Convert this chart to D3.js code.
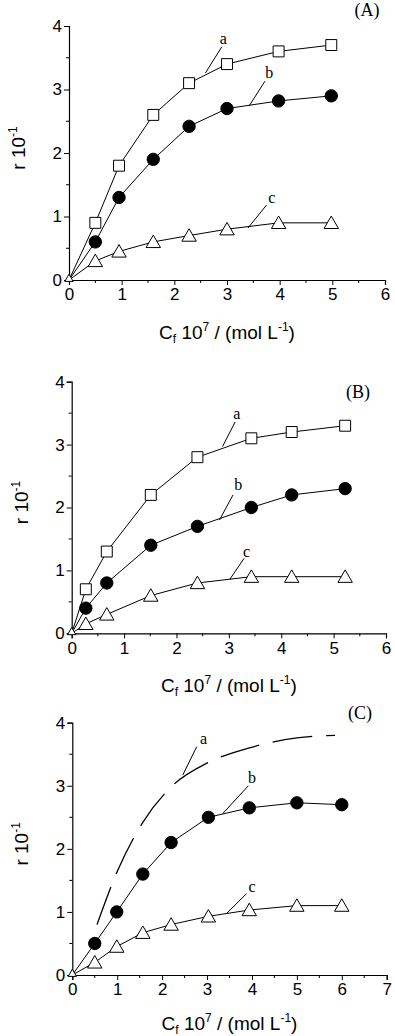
<!DOCTYPE html>
<html>
<head>
<meta charset="utf-8">
<script src="https://cdn.jsdelivr.net/npm/d3@7"></script>
<style>
    body { margin: 0; background: #fff; }
    svg { display: block; }
    .tick-label { font-family: "Liberation Sans", Arial, sans-serif; font-size: 17px; fill: #000; }
    .axis-title { font-family: "Liberation Sans", Arial, sans-serif; font-size: 19px; fill: #000; }
    .panel-tag { font-family: "Liberation Serif", "Times New Roman", serif; font-size: 18px; fill: #000; }
    .curve-tag { font-family: "Liberation Serif", "Times New Roman", serif; font-size: 16px; fill: #000; }
</style>
</head>
<body>
<svg id="chart" width="395" height="1036"></svg>
<script>
(function () {
    "use strict";

    // ---- data ----
    // panel A
    var xA = [0, 0.5, 0.95, 1.6, 2.28, 3, 3.98, 4.98];
    var aA = [0, 0.9, 1.8, 2.6, 3.1, 3.4, 3.6, 3.7];
    var bA = [0, 0.6, 1.3, 1.9, 2.42, 2.7, 2.82, 2.9];
    var cA = [0, 0.3, 0.45, 0.6, 0.7, 0.8, 0.9, 0.9];

    // panel B
    var xB = [0, 0.27, 0.67, 1.51, 2.4, 3.43, 4.2, 5.22];
    var aB = [0, 0.7, 1.3, 2.2, 2.8, 3.1, 3.2, 3.3];
    var bB = [0, 0.4, 0.8, 1.4, 1.7, 2.0, 2.2, 2.3];
    var cB = [0, 0.15, 0.3, 0.6, 0.8, 0.9, 0.9, 0.9];

    // panel C (a is a dashed fitted curve with no symbols)
    var xC = [0, 0.5, 0.99, 1.57, 2.2, 3.03, 3.94, 5.0, 6.0];
    var bC = [0, 0.5, 1.0, 1.6, 2.1, 2.5, 2.65, 2.73, 2.7];
    var cC = [0, 0.2, 0.45, 0.67, 0.8, 0.93, 1.03, 1.1, 1.1];
    var xCurveC = [0.55, 1.0, 1.57, 2.2, 3.03, 3.94, 5.0, 5.85];
    var aCurveC = [0.8, 1.64, 2.42, 2.98, 3.37, 3.6, 3.76, 3.8];

    var xTicksA = [0, 1, 2, 3, 4, 5, 6];
    var xTicksC = [0, 1, 2, 3, 4, 5, 6, 7];
    var yTicks = [0, 1, 2, 3, 4];

    // curve labels: name, leader start, leader end, text position (data units)
    var tagsA = [
        ["a", [2.59, 3.26], [2.9, 3.67], [2.93, 3.72]],
        ["b", [3.42, 2.74], [3.72, 3.13], [3.8, 3.18]],
        ["c", [3.4, 0.82], [3.75, 1.18], [3.85, 1.22]]
    ];
    var tagsB = [
        ["a", [2.88, 2.97], [3.12, 3.36], [3.15, 3.4]],
        ["b", [2.82, 1.8], [3.08, 2.2], [3.18, 2.28]],
        ["c", [3.02, 0.86], [3.29, 1.19], [3.34, 1.22]]
    ];
    var tagsC = [
        ["a", [2.46, 3.17], [2.77, 3.62], [2.92, 3.66]],
        ["b", [3.35, 2.56], [3.92, 3.0], [4.0, 3.05]],
        ["c", [3.44, 0.98], [3.88, 1.29], [4.0, 1.31]]
    ];

    var svg = d3.select("#chart");

    function zip(xs, ys) {
        return xs.map(function (x, i) { return [x, ys[i]]; });
    }

    function drawMarkers(g, pts, shape, x, y) {
        var sym;
        if (shape === "square") sym = d3.symbol().type(d3.symbolSquare).size(120);
        else if (shape === "circle") sym = d3.symbol().type(d3.symbolCircle).size(120);
        else sym = d3.symbol().type(d3.symbolTriangle).size(90);
        g.selectAll("path.m-" + shape)
            .data(pts.filter(function (p) { return p[0] > 0; }))
            .enter().append("path")
            .attr("class", "m-" + shape)
            .attr("transform", function (p) {
                var dy = shape === "triangle" ? 1.5 : 0;
                return "translate(" + x(p[0]) + "," + (y(p[1]) + dy) + ")";
            })
            .attr("d", sym)
            .attr("fill", shape === "circle" ? "#000" : "#fff")
            .attr("stroke", "#000")
            .attr("stroke-width", 1);
    }

    function drawPanel(p) {
        var x = d3.scaleLinear().domain([0, p.xMax]).range([p.left, p.right]);
        var y = d3.scaleLinear().domain([0, 4]).range([p.bottom, p.top]);
        var g = svg.append("g");

        // axes (left and bottom only, outward ticks, minor at halves)
        var xAxis = d3.axisBottom(x).tickValues(p.xTicks).tickSize(5).tickPadding(2).tickFormat(d3.format("d"));
        var yAxis = d3.axisLeft(y).tickValues(yTicks).tickSize(5).tickPadding(2).tickFormat(d3.format("d"));

        var minorX = d3.range(0.5, p.xMax, 1);
        var minorY = d3.range(0.5, 4, 1);

        var gx = g.append("g").attr("transform", "translate(0," + p.bottom + ")").call(xAxis);
        var gy = g.append("g").attr("transform", "translate(" + p.left + ",0)").call(yAxis);
        [gx, gy].forEach(function (ax) {
            ax.select(".domain").attr("stroke", "#000").attr("stroke-width", 1.2);
            ax.selectAll(".tick line").attr("stroke", "#000");
            ax.selectAll(".tick text").attr("class", "tick-label").attr("font-size", null).attr("font-family", null);
            ax.attr("font-size", null).attr("font-family", null);
        });
        gx.selectAll(".tick text").attr("dy", "0.78em");
        g.append("g").selectAll("line").data(minorX).enter().append("line")
            .attr("x1", function (d) { return x(d); }).attr("x2", function (d) { return x(d); })
            .attr("y1", p.bottom).attr("y2", p.bottom + 3).attr("stroke", "#000");
        g.append("g").selectAll("line").data(minorY).enter().append("line")
            .attr("y1", function (d) { return y(d); }).attr("y2", function (d) { return y(d); })
            .attr("x1", p.left).attr("x2", p.left - 3).attr("stroke", "#000");

        var line = d3.line().x(function (d) { return x(d[0]); }).y(function (d) { return y(d[1]); });

        // series lines first, symbols on top
        p.series.forEach(function (s) {
            g.append("path")
                .datum(s.pts)
                .attr("d", s.dashed ? line.curve(d3.curveMonotoneX)(s.pts) : line.curve(d3.curveLinear)(s.pts))
                .attr("fill", "none")
                .attr("stroke", "#000")
                .attr("stroke-width", s.dashed ? 1.3 : 1)
                .attr("stroke-dasharray", s.dashed ? "40,14" : null);
        });

        // leader lines + letters
        p.tags.forEach(function (t) {
            g.append("line")
                .attr("x1", x(t[1][0])).attr("y1", y(t[1][1]))
                .attr("x2", x(t[2][0])).attr("y2", y(t[2][1]))
                .attr("stroke", "#000").attr("stroke-width", 1);
            g.append("text").attr("class", "curve-tag")
                .attr("x", x(t[3][0])).attr("y", y(t[3][1]))
                .attr("text-anchor", "middle")
                .text(t[0]);
        });

        p.series.forEach(function (s) {
            if (s.shape) drawMarkers(g, s.pts, s.shape, x, y);
        });

        // tiny open marker left at the origin
        g.append("path")
            .attr("transform", "translate(" + x(0) + "," + (y(0) - 1) + ")")
            .attr("d", d3.symbol().type(d3.symbolTriangle).size(30))
            .attr("fill", "#fff").attr("stroke", "#000");

        // y title: r 10^-1
        var yt = g.append("text").attr("class", "axis-title")
            .attr("transform", "translate(" + (p.left - 44) + "," + ((p.top + p.bottom) / 2 - 5) + ") rotate(-90)")
            .attr("text-anchor", "middle");
        yt.append("tspan").text("r 10");
        yt.append("tspan").attr("dy", -8).attr("font-size", 12).text("-1");

        // x title: Cf 10^7 / (mol L^-1)
        var xt = g.append("text").attr("class", "axis-title")
            .attr("x", (p.left + p.right) / 2).attr("y", p.bottom + p.titleGap)
            .attr("text-anchor", "middle");
        xt.append("tspan").text("C");
        xt.append("tspan").attr("dy", 4).attr("font-size", 12).text("f");
        xt.append("tspan").attr("dy", -4).text(" 10");
        xt.append("tspan").attr("dy", -8).attr("font-size", 12).text("7");
        xt.append("tspan").attr("dy", 8).text(" / (mol L");
        xt.append("tspan").attr("dy", -8).attr("font-size", 12).text("-1");
        xt.append("tspan").attr("dy", 8).text(")");

        g.append("text").attr("class", "panel-tag")
            .attr("x", p.tagX).attr("y", p.tagY)
            .attr("text-anchor", "middle")
            .text(p.name);
    }

    drawPanel({
        name: "(A)", tagX: 367, tagY: 16, titleGap: 59,
        left: 69, right: 385, top: 26, bottom: 280, xMax: 6, xTicks: xTicksA,
        series: [
            { pts: zip(xA, aA), shape: "square" },
            { pts: zip(xA, bA), shape: "circle" },
            { pts: zip(xA, cA), shape: "triangle" }
        ],
        tags: tagsA
    });

    drawPanel({
        name: "(B)", tagX: 358, tagY: 398, titleGap: 59,
        left: 71.7, right: 386, top: 381.7, bottom: 633.3, xMax: 6, xTicks: xTicksA,
        series: [
            { pts: zip(xB, aB), shape: "square" },
            { pts: zip(xB, bB), shape: "circle" },
            { pts: zip(xB, cB), shape: "triangle" }
        ],
        tags: tagsB
    });

    drawPanel({
        name: "(C)", tagX: 360, tagY: 719, titleGap: 55,
        left: 72.3, right: 386.7, top: 722.7, bottom: 975, xMax: 7, xTicks: xTicksC,
        series: [
            { pts: zip(xCurveC, aCurveC), dashed: true },
            { pts: zip(xC, bC), shape: "circle" },
            { pts: zip(xC, cC), shape: "triangle" }
        ],
        tags: tagsC
    });
}());
</script>
</body>
</html>
